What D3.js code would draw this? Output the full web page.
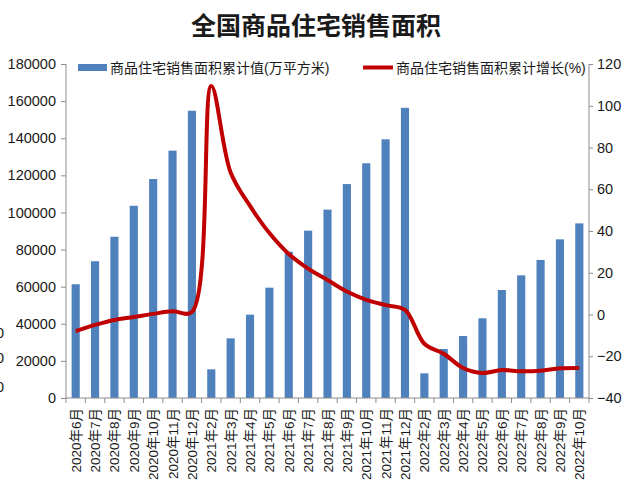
<!DOCTYPE html>
<html>
<head>
<meta charset="utf-8">
<script src="https://cdn.jsdelivr.net/npm/d3@7"></script>
<style>
  body { margin: 0; background: #fff; }
  text { font-family: "Liberation Sans", "Noto Sans CJK SC", sans-serif; fill: #1a1a1a; }
</style>
</head>
<body>
<svg id="chart" width="640" height="490"></svg>
<script>
// categories
var months = ["2020年6月","2020年7月","2020年8月","2020年9月","2020年10月","2020年11月","2020年12月",
  "2021年2月","2021年3月","2021年4月","2021年5月","2021年6月","2021年7月","2021年8月","2021年9月","2021年10月","2021年11月","2021年12月",
  "2022年2月","2022年3月","2022年4月","2022年5月","2022年6月","2022年7月","2022年8月","2022年9月","2022年10月"];

// 累计值 (万平方米)
var areaValues = [61300, 73700, 86900, 103600, 118000, 133300, 154800,
  15450, 32150, 44900, 59450, 78850, 90200, 101500, 115300, 126500, 139400, 156400,
  13300, 26400, 33400, 42950, 58200, 66100, 74400, 85500, 94100];

// 累计增长 (%)
var growthValues = [-8, -5, -2.6, -1.2, 0.3, 1.5, 1.2,
  109.5, 68, 52, 39, 29, 22, 16.5, 11, 7, 4.5, 2.2,
  -14, -18.8, -25.6, -28, -26.6, -27.2, -26.9, -25.8, -25.6];

var leftTicks = [0, 20000, 40000, 60000, 80000, 100000, 120000, 140000, 160000, 180000];
var rightTicks = [-40, -20, 0, 20, 40, 60, 80, 100, 120];

var svg = d3.select("#chart");
var plot = { left: 66, right: 589, top: 64, bottom: 398 };
var axisColor = "#8c8c8c";

var x = d3.scaleBand().domain(months).range([plot.left, plot.right])
  .paddingInner(0.58).paddingOuter(0.29);
var yL = d3.scaleLinear().domain([0, 180000]).range([plot.bottom, plot.top]);
var yR = d3.scaleLinear().domain([-40, 120]).range([plot.bottom, plot.top]);

// title
svg.append("text")
  .attr("x", 316).attr("y", 35)
  .attr("text-anchor", "middle")
  .style("font-family", "'Noto Sans CJK SC', sans-serif")
  .style("font-weight", "bold")
  .style("font-size", "25px")
  .text("全国商品住宅销售面积");

// bars
svg.append("g").selectAll("rect")
  .data(areaValues).enter()
  .append("rect")
  .attr("x", function(d, i) { return x(months[i]); })
  .attr("width", x.bandwidth())
  .attr("y", function(d) { return yL(d); })
  .attr("height", function(d) { return yL(0) - yL(d); })
  .style("fill", "#4f81bd");

// left axis
var gL = svg.append("g").attr("transform", "translate(" + plot.left + ",0)")
  .call(d3.axisLeft(yL).tickValues(leftTicks).tickSize(5).tickPadding(5).tickFormat(d3.format("d")));
// right axis
var gR = svg.append("g").attr("transform", "translate(" + plot.right + ",0)")
  .call(d3.axisRight(yR).tickValues(rightTicks).tickSize(4).tickPadding(4).tickFormat(function(d) { return d < 0 ? "\u2212" + (-d) : d; }));
// bottom axis: ticks at category boundaries
var step = x.step();
var gB = svg.append("g").attr("transform", "translate(0," + plot.bottom + ")");
gB.append("line").attr("x1", plot.left).attr("x2", plot.right).attr("y1", 0).attr("y2", 0)
  .style("stroke", axisColor);
gB.selectAll(".btick").data(d3.range(months.length + 1)).enter()
  .append("line")
  .attr("x1", function(i) { return plot.left + i * step; })
  .attr("x2", function(i) { return plot.left + i * step; })
  .attr("y1", 0).attr("y2", 5)
  .style("stroke", axisColor);
gB.selectAll(".blabel").data(months).enter()
  .append("text")
  .attr("transform", function(d) { return "translate(" + (x(d) + x.bandwidth() / 2 + 5) + ",10) rotate(-90)"; })
  .attr("text-anchor", "end")
  .style("font-size", "13.5px")
  .text(function(d) { return d; });

[gL, gR].forEach(function(g) {
  g.select(".domain").style("stroke", axisColor);
  g.selectAll(".tick line").style("stroke", axisColor);
  g.selectAll(".tick text").style("font-size", "14.5px").style("fill", "#1a1a1a");
});
gL.select(".domain").attr("d", "M0," + plot.bottom + "V" + plot.top);
gR.select(".domain").attr("d", "M0," + plot.bottom + "V" + plot.top);

// growth line
var line = d3.line()
  .x(function(d, i) { return x(months[i]) + x.bandwidth() / 2; })
  .y(function(d) { return yR(d); })
  .curve(d3.curveCatmullRom.alpha(0.5));

svg.append("path")
  .datum(growthValues)
  .attr("d", line)
  .style("fill", "none")
  .style("stroke", "#c00000")
  .style("stroke-width", 4)
  .style("stroke-linejoin", "round");

// legend
svg.append("rect").attr("x", 78).attr("y", 64).attr("width", 29).attr("height", 7).style("fill", "#4f81bd");
svg.append("text").attr("x", 110).attr("y", 73).style("font-size", "14px")
  .text("商品住宅销售面积累计值(万平方米)");
svg.append("line").attr("x1", 363).attr("x2", 393).attr("y1", 67.5).attr("y2", 67.5)
  .style("stroke", "#c00000").style("stroke-width", 4);
svg.append("text").attr("x", 396).attr("y", 73).style("font-size", "14px")
  .text("商品住宅销售面积累计增长(%)");

// cropped labels from the left edge
svg.selectAll(".frag").data([338, 363, 392]).enter()
  .append("text")
  .attr("x", 4).attr("y", function(d) { return d; })
  .attr("text-anchor", "end")
  .style("font-size", "15px")
  .text("0");
</script>
</body>
</html>
